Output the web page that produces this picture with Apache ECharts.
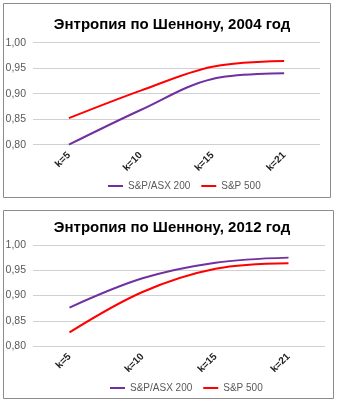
<!DOCTYPE html>
<html>
<head>
<meta charset="utf-8">
<script src="https://cdn.jsdelivr.net/npm/echarts@6/dist/echarts.min.js"></script>
<style>
  html, body { margin: 0; padding: 0; background: #fff; }
  #chart { width: 344px; height: 408px; }
</style>
</head>
<body>
<div id="chart"></div>
<script>
// Shannon entropy by embedding order k, two years, two indices
const categories = ['k=5', 'k=10', 'k=15', 'k=21'];
const asx2004 = [0.800, 0.868, 0.929, 0.940];
const sp2004  = [0.852, 0.906, 0.953, 0.964];
const asx2012 = [0.876, 0.934, 0.965, 0.975];
const sp2012  = [0.827, 0.907, 0.953, 0.964];
const titles = ['Энтропия по Шеннону, 2004 год', 'Энтропия по Шеннону, 2012 год'];
const seriesNames = ['S&P/ASX 200', 'S&P 500'];

const PURPLE = '#7030A0';
const RED = '#FF0000';
const FONT = '"Liberation Sans", Arial, sans-serif';

const chart = echarts.init(document.getElementById('chart'), null, { renderer: 'canvas' });

function yAxis(idx) {
  return {
    gridIndex: idx, type: 'value', min: 0.8, max: 1.0, interval: 0.05,
    axisLine: { show: false }, axisTick: { show: false },
    axisLabel: {
      color: '#595959', fontFamily: FONT, fontSize: 10.5, margin: 7,
      formatter: v => v.toFixed(2).replace('.', ',')
    },
    splitLine: { lineStyle: { color: '#d0d0d0', width: 1 } }
  };
}
function xAxis(idx) {
  return {
    gridIndex: idx, type: 'category', data: categories, boundaryGap: true,
    axisLine: { show: false }, axisTick: { show: false },
    axisLabel: { rotate: 45, color: '#222', fontFamily: FONT, fontSize: 10, fontWeight: 'bold', margin: 9 }
  };
}
function line(name, data, color, idx) {
  return {
    name, type: 'line', data, xAxisIndex: idx, yAxisIndex: idx,
    smooth: 0.35, showSymbol: false, symbol: 'none',
    lineStyle: { color, width: 2 }, itemStyle: { color }
  };
}
function legend(top, left) {
  return {
    top, left, orient: 'horizontal', icon: 'rect', itemWidth: 15, itemHeight: 2, itemGap: 11,
    textStyle: { color: '#595959', fontFamily: FONT, fontSize: 10 },
    data: seriesNames
  };
}

chart.setOption({
  animation: false,
  title: [
    { text: titles[0], left: 'center', top: 12, textStyle: { fontFamily: FONT, fontSize: 15, fontWeight: 'bold', color: '#000' } },
    { text: titles[1], left: 'center', top: 215, textStyle: { fontFamily: FONT, fontSize: 15, fontWeight: 'bold', color: '#000' } }
  ],
  graphic: [
    { type: 'rect', shape: { x: 3.5, y: 3.5, width: 327, height: 194 }, style: { fill: 'none', stroke: '#8c8c8c', lineWidth: 1 }, silent: true },
    { type: 'rect', shape: { x: 3.5, y: 210.5, width: 330, height: 188 }, style: { fill: 'none', stroke: '#8c8c8c', lineWidth: 1 }, silent: true }
  ],
  grid: [
    { left: 33, width: 287, top: 42.7, height: 102 },
    { left: 33, width: 292, top: 245, height: 101 }
  ],
  xAxis: [xAxis(0), xAxis(1)],
  yAxis: [yAxis(0), yAxis(1)],
  legend: [legend(176, 103), legend(378, 105)],
  series: [
    line(seriesNames[0], asx2004, PURPLE, 0),
    line(seriesNames[1], sp2004, RED, 0),
    line(seriesNames[0], asx2012, PURPLE, 1),
    line(seriesNames[1], sp2012, RED, 1)
  ]
});
</script>
</body>
</html>
